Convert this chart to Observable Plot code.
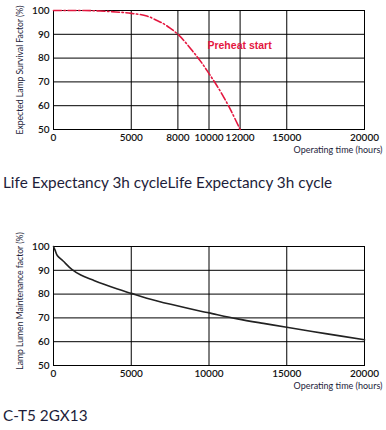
<!DOCTYPE html>
<html><head><meta charset="utf-8">
<script src="https://cdn.jsdelivr.net/npm/d3@7"></script>
<script src="https://cdn.jsdelivr.net/npm/@observablehq/plot@0.6"></script>
<style>
body{margin:0;background:#fff;width:386px;height:430px;position:relative;overflow:hidden;font-family:Lato,"Open Sans",sans-serif;}
#c1{position:absolute;left:0;top:0;}
#c2{position:absolute;left:0;top:232px;}
.ttl{position:absolute;left:3px;font-size:15.3px;color:#1d1d3a;white-space:nowrap;line-height:16px;}
</style></head>
<body>
<div id="c1"></div>
<div class="ttl" style="top:174px">Life Expectancy 3h cycleLife Expectancy 3h cycle</div>
<div id="c2"></div>
<div class="ttl" style="top:407px">C-T5 2GX13</div>
<script>
const xTicks1 = [0, 5000, 8000, 10000, 12000, 15000, 20000];
const xTicks2 = [0, 5000, 10000, 15000, 20000];
const yTicks = [50, 60, 70, 80, 90, 100];
const survivalHours = [0, 2000, 3000, 4000, 5000, 6000, 6650, 7000, 7500, 8000, 8500, 9000, 9500, 10000, 10500, 11000, 11500, 12000];
const survivalPct = [100, 100, 99.8, 99.4, 98.8, 97.7, 95.8, 94.7, 92.6, 90, 86.5, 82.5, 78.3, 73.5, 68.5, 63, 56.8, 50];
const lumenHours = [0, 100, 255, 600, 1200, 1755, 2500, 3200, 4115, 5000, 6000, 7543, 9473, 10000, 11833, 13500, 15000, 17500, 20000];
const lumenPct = [100, 98.5, 96.1, 94, 90.3, 88, 86, 84.2, 82.1, 80.3, 78.3, 75.7, 72.8, 72.1, 69.6, 67.7, 66.1, 63.4, 60.8];
const annotation = [{x: 9900, y: 85.4, text: "Preheat start"}];
const xLabel = "Operating time (hours)";
const yLabel1 = "Expected Lamp Survival Factor (%)";
const yLabel2 = "Lamp Lumen Maintenance factor (%)";

const survival = survivalHours.map((h, i) => ({h, v: survivalPct[i]}));
const lumen = lumenHours.map((h, i) => ({h, v: lumenPct[i]}));

function chart({xTicks, data, lineOpts, extra, yLabel, marginTop, marginBottom, yLabelDy}) {
  return Plot.plot({
    width: 386, height: 160,
    marginLeft: 53, marginRight: 22, marginTop, marginBottom,
    style: {fontFamily: "Lato, 'Open Sans', sans-serif", fontSize: "10px", color: "#111", background: "#fff"},
    x: {domain: [0, 20000], label: null},
    y: {domain: [50, 100], label: null},
    marks: [
      Plot.ruleX(xTicks.slice(1, -1), {stroke: "#000", strokeWidth: 1, strokeOpacity: 1}),
      Plot.ruleY(yTicks.slice(1, -1), {stroke: "#000", strokeWidth: 1, strokeOpacity: 1}),
      Plot.frame({stroke: "#000", strokeWidth: 1}),
      Plot.line(data, {x: "h", y: "v", curve: "catmull-rom", ...lineOpts}),
      ...extra,
      Plot.axisX(xTicks, {tickSize: 0, tickPadding: 4, tickFormat: d => String(d), fontSize: 10, fontWeight: 600, fill: "#111"}),
      Plot.axisY(yTicks, {tickSize: 0, tickPadding: 4, tickFormat: d => String(d), fontSize: 10, fontWeight: 600, fill: "#111"}),
      Plot.text([xLabel], {frameAnchor: "bottom-right", text: d => d, dx: 18, dy: 23, textAnchor: "end", fontSize: 9, fill: "#1d1d3a"}),
      Plot.text([yLabel], {frameAnchor: "left", text: d => d, dx: -33, dy: yLabelDy, rotate: -90, textAnchor: "middle", fontSize: 8.6, fill: "#1d1d3a"})
    ]
  });
}

document.getElementById("c1").append(chart({
  xTicks: xTicks1, data: survival, yLabel: yLabel1, marginTop: 10, marginBottom: 31, yLabelDy: 0,
  lineOpts: {stroke: "#e4173f", strokeWidth: 1.6, strokeDasharray: "8,2.5,1.5,2.5"},
  extra: [Plot.text(annotation, {x: "x", y: "y", text: "text", textAnchor: "start", fill: "#e4173f", fontSize: 10.5, fontWeight: "bold", fontFamily: "Liberation Sans, Arial, sans-serif"})]
}));
document.getElementById("c2").append(chart({
  xTicks: xTicks2, data: lumen, yLabel: yLabel2, marginTop: 14, marginBottom: 27, yLabelDy: -5,
  lineOpts: {stroke: "#222", strokeWidth: 1.6},
  extra: []
}));
</script>
</body></html>
